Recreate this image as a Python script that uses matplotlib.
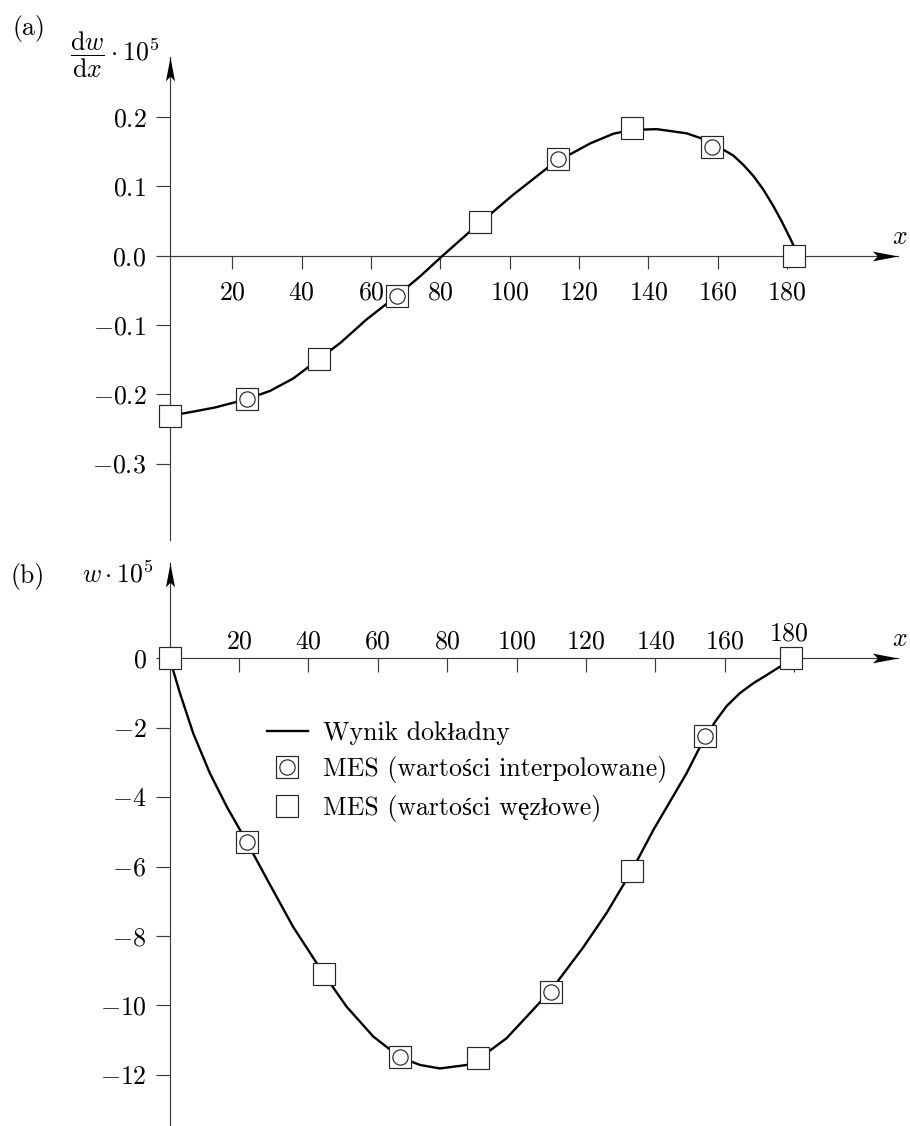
import numpy as np
import matplotlib
matplotlib.use("Agg")
import matplotlib.pyplot as plt
from matplotlib.path import Path
from matplotlib.lines import Line2D
from matplotlib.legend_handler import HandlerTuple

plt.rcParams['font.family'] = ['cmr10', 'Liberation Serif', 'DejaVu Serif']
plt.rcParams['mathtext.fontset'] = 'cm'
plt.rcParams['axes.unicode_minus'] = False
FS = 18.6
plt.rcParams['font.size'] = FS

# ---------------- data: panel (a) dw/dx * 1e5 ----------------
a_exact_x = [2, 8.7, 15.0, 24.2, 30.9, 37.6, 45, 51.1, 58.7, 67.4, 74.1, 80.2, 88.1,
             91.4, 101, 110.7, 114, 123.2, 129.9, 135.2, 142.4, 151, 154.9, 161.6,
             164.5, 167.4, 170.3, 173.2, 176, 178.5, 180.9, 183.2]
a_exact_y = [-0.231, -0.225, -0.219, -0.207, -0.195, -0.177, -0.149, -0.126, -0.092,
             -0.058, -0.030, -0.002, 0.033, 0.047, 0.088, 0.126, 0.137, 0.162, 0.176,
             0.1815, 0.1826, 0.1766, 0.170, 0.153, 0.1445, 0.131, 0.115, 0.095, 0.072,
             0.049, 0.025, 0.0]
a_node_x = [2, 45, 91.4, 135.2, 182]
a_node_y = [-0.231, -0.149, 0.048, 0.184, 0.0]
a_int_x = [24.2, 67.4, 114, 158.4]
a_int_y = [-0.207, -0.058, 0.139, 0.157]
a_xticks = [20, 40, 60, 80, 100, 120, 140, 160, 180]
a_yticks = [0.2, 0.1, 0.0, -0.1, -0.2, -0.3]
a_yticklabels = ['0.2', '0.1', '0.0', '-0.1', '-0.2', '-0.3']

# ---------------- data: panel (b) w * 1e5 ----------------
b_exact_x = [0, 3.0, 6.8, 11.6, 16.5, 22.3, 28.9, 35.6, 44.5, 51.0, 58.7, 66.4, 72.2,
             77.9, 85.6, 89, 97.1, 103.9, 109.8, 119.2, 126, 133.2, 139.4, 144.2, 149.0,
             152.4, 157.2, 160.5, 164.4, 168.2, 172.1, 175.9, 179.1]
b_exact_y = [0, -1.01, -2.16, -3.31, -4.28, -5.30, -6.52, -7.74, -9.11, -10.04, -10.90,
             -11.50, -11.72, -11.82, -11.72, -11.55, -10.95, -10.22, -9.58, -8.33, -7.33,
             -6.12, -4.95, -4.13, -3.31, -2.64, -1.83, -1.38, -1.00, -0.72, -0.48, -0.24, 0]
b_node_x = [0, 44.5, 89, 133.2, 179.1]
b_node_y = [0, -9.11, -11.53, -6.12, 0]
b_int_x = [22.3, 66.4, 109.8, 154.3]
b_int_y = [-5.30, -11.50, -9.63, -2.23]
b_xticks = [20, 40, 60, 80, 100, 120, 140, 160, 180]
b_yticks = [0, -2, -4, -6, -8, -10, -12]

legend_labels = ['Wynik dokładny', 'MES (wartości interpolowane)', 'MES (wartości węzłowe)']

# ---------------- styling ----------------
W, H = 910, 1126
AX_COL = '#3c3c3c'
AX_LW = 0.85
CURVE_LW = 1.7
SQ_MS = 15.4
CI_MS = 11.0
MK_EC = '#262626'
MK_EW = 0.85


def rect(l, t, r, b):
    return [l / W, 1 - b / H, (r - l) / W, (b - t) / H]


def m(s):
    return '$' + s + '$'


arrow_x = Path([(0, 0), (-1, 0.19), (-0.8, 0), (-1, -0.19), (0, 0)],
               [Path.MOVETO, Path.LINETO, Path.LINETO, Path.LINETO, Path.CLOSEPOLY])
arrow_y = Path([(0, 0), (-0.19, -1), (0, -0.8), (0.19, -1), (0, 0)],
               [Path.MOVETO, Path.LINETO, Path.LINETO, Path.LINETO, Path.CLOSEPOLY])
ARROW_MS = 37.0

fig = plt.figure(figsize=(W / 100, H / 100), dpi=100)


def draw_series(ax, ex, ey, nx, ny, ix, iy):
    ax.plot(ex, ey, color='black', lw=CURVE_LW, zorder=3, solid_joinstyle='round')
    ax.plot(nx, ny, ls='none', marker='s', ms=SQ_MS, mfc='white', mec=MK_EC,
            mew=MK_EW, zorder=5, clip_on=False)
    ax.plot(ix, iy, ls='none', marker='s', ms=SQ_MS, mfc='white', mec=MK_EC,
            mew=MK_EW, zorder=5, clip_on=False)
    ax.plot(ix, iy, ls='none', marker='o', ms=CI_MS, mfc='white', mec=MK_EC,
            mew=MK_EW, zorder=6, clip_on=False)


def arrows(ax):
    ax.plot([1], [0], transform=ax.get_yaxis_transform(), marker=arrow_x,
            ms=ARROW_MS, color='black', mew=0, clip_on=False, zorder=7)
    ax.plot([0], [1], transform=ax.transAxes, marker=arrow_y,
            ms=ARROW_MS * 0.93, color='black', mew=0, clip_on=False, zorder=7)


# ================= panel (a) =================
axa = fig.add_axes(rect(170, 56.7, 898.3, 540))
axa.set_xlim(2, (898.3 - 163) / 3.467)
axa.set_ylim((255.7 - 540) / 693, (255.7 - 56.7) / 693)
for s in ['top', 'right']:
    axa.spines[s].set_visible(False)
axa.spines['bottom'].set_position(('data', 0))
for s in ['left', 'bottom']:
    axa.spines[s].set_color(AX_COL)
    axa.spines[s].set_linewidth(AX_LW)
axa.set_xticks(a_xticks, labels=[m(str(v)) for v in a_xticks])
axa.set_yticks(a_yticks, labels=[m(v) for v in a_yticklabels])
axa.tick_params(axis='x', direction='out', length=9.1, width=AX_LW, color=AX_COL,
                pad=9.0, labelsize=FS)
axa.tick_params(axis='y', direction='out', length=10, width=AX_LW, color=AX_COL,
                pad=7.0, labelsize=FS)
draw_series(axa, a_exact_x, a_exact_y, a_node_x, a_node_y, a_int_x, a_int_y)
arrows(axa)

fig.text(29 / W, 1 - 28.3 / H, '(a)', ha='center', va='center', fontsize=FS)
fig.text(114.5 / W, 1 - 55 / H, r'$\dfrac{\mathrm{d}w}{\mathrm{d}x}\cdot 10^5$',
         ha='center', va='center', fontsize=FS)
fig.text(900 / W, 1 - 236.7 / H, r'$x$', ha='center', va='center', fontsize=FS)

# ================= panel (b) =================
axb = fig.add_axes(rect(170, 563.3, 898.3, 1125))
axb.set_xlim((170 - 169.6) / 3.47, (898.3 - 169.6) / 3.47)
axb.set_ylim(-(1125 - 658.3) / 34.7, (658.3 - 563.3) / 34.7)
for s in ['bottom', 'right']:
    axb.spines[s].set_visible(False)
axb.spines['top'].set_position(('data', 0))
for s in ['left', 'top']:
    axb.spines[s].set_color(AX_COL)
    axb.spines[s].set_linewidth(AX_LW)
axb.xaxis.set_ticks_position('top')
axb.set_xticks(b_xticks, labels=[m(str(v)) if v != 180 else '' for v in b_xticks])
axb.set_yticks(b_yticks, labels=[m(str(v)) for v in b_yticks])
axb.tick_params(axis='x', direction='in', length=10, width=AX_LW, color=AX_COL,
                pad=3.6, labelsize=FS, top=True, labeltop=True,
                bottom=False, labelbottom=False)
axb.tick_params(axis='y', direction='out', length=10, width=AX_LW, color=AX_COL,
                pad=7.0, labelsize=FS)
axb.annotate(m(str(b_xticks[-1])), xy=(b_xticks[-1], 0), xytext=(-4.1, 8.9),
             textcoords='offset points', ha='center', va='bottom', fontsize=FS)
draw_series(axb, b_exact_x, b_exact_y, b_node_x, b_node_y, b_int_x, b_int_y)
arrows(axb)

fig.text(27.5 / W, 1 - 577 / H, '(b)', ha='center', va='center', fontsize=FS)
fig.text(118 / W, 1 - 574 / H, r'$w\cdot 10^5$', ha='center', va='center', fontsize=FS)
fig.text(900 / W, 1 - 639 / H, r'$x$', ha='center', va='center', fontsize=FS)

# legend
h_line = Line2D([], [], color='black', lw=CURVE_LW)
h_sq = Line2D([], [], ls='none', marker='s', ms=SQ_MS, mfc='white', mec=MK_EC, mew=MK_EW)
h_ci = Line2D([], [], ls='none', marker='o', ms=CI_MS, mfc='white', mec=MK_EC, mew=MK_EW)
axb.legend([h_line, (h_sq, h_ci), h_sq], legend_labels,
           handler_map={tuple: HandlerTuple(ndivide=1)},
           loc='upper left', bbox_to_anchor=(266.7 / W, 1 - 721 / H),
           bbox_transform=fig.transFigure, frameon=False, borderpad=0,
           borderaxespad=0, handlelength=1.6, handletextpad=0.58,
           labelspacing=0.45, fontsize=FS)

fig.savefig('out.png', dpi=100)
